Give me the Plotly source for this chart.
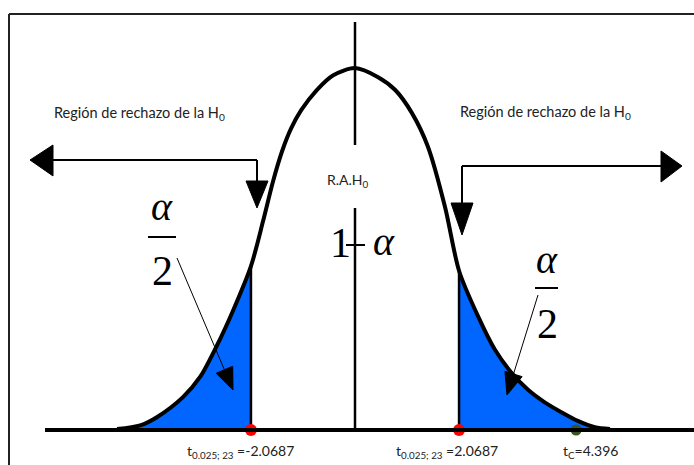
import numpy as np
import plotly.graph_objects as go

# Bell curve of the test statistic (t, 23 d.f.), sketched shape
t_curve = [-4.73, -4.27, -3.94, -3.42, -3.08, -2.74, -2.43, -2.07, -1.83, -1.63,
           -1.45, -1.27, -1.07, -0.76, -0.44, 0.0, 0.46, 0.80, 1.13, 1.45,
           1.79, 2.07, 2.45, 2.78, 3.12, 3.44, 3.78, 4.12, 4.43, 4.77, 5.07]
dens_curve = [0.001, 0.005, 0.014, 0.036, 0.058, 0.093, 0.130, 0.179, 0.228, 0.272,
              0.305, 0.330, 0.350, 0.372, 0.388, 0.396, 0.386, 0.372, 0.347, 0.310,
              0.244, 0.174, 0.124, 0.088, 0.062, 0.044, 0.030, 0.019, 0.010, 0.003, 0.001]

t_crit_low = -2.0687
t_crit_high = 2.0687
t_calc = 4.396

label_reject = "Región de rechazo de la H<sub>0</sub>"
label_accept = "R.A.H<sub>0</sub>"
label_crit_low = "t<sub>0.025; 23</sub> =-2.0687"
label_crit_high = "t<sub>0.025; 23</sub> =2.0687"
label_calc = "t<sub>C</sub>=4.396"

W, H = 694, 465
BLUE = "#0066FF"
SANS = "Lato, Open Sans, sans-serif"
SERIF = "Liberation Serif, Times New Roman, serif"

tc = np.array(t_curve)
dc = np.array(dens_curve)


def paper(x, y):
    return x / W, 1 - y / H


def path_from_pixels(points, close=False):
    parts = []
    for i, (x, y) in enumerate(points):
        px, py = paper(x, y)
        parts.append(("M" if i == 0 else "L") + f" {px:.5f} {py:.5f}")
    return " ".join(parts) + (" Z" if close else "")


shapes = []


def line_px(p0, p1, width=2, color="#000"):
    shapes.append(dict(type="path", xref="paper", yref="paper",
                       path=path_from_pixels([p0, p1]),
                       line=dict(color=color, width=width)))


def tri_px(points, color="#000"):
    shapes.append(dict(type="path", xref="paper", yref="paper",
                       path=path_from_pixels(points, close=True),
                       fillcolor=color, line=dict(color=color, width=1)))


def pointer_px(start, tip, head_len=22, half_w=9, width=1):
    s = np.array(start, float)
    e = np.array(tip, float)
    d = (e - s) / np.linalg.norm(e - s)
    n = np.array([-d[1], d[0]])
    base = e - head_len * d
    line_px(tuple(s), tuple(base), width=width)
    tri_px([tuple(e), tuple(base + half_w * n), tuple(base - half_w * n)])


fig = go.Figure()

# Rejection tails
y_low = float(np.interp(t_crit_low, tc, dc))
y_high = float(np.interp(t_crit_high, tc, dc))
m_low = tc <= t_crit_low
m_high = tc >= t_crit_high
fig.add_trace(go.Scatter(
    x=list(tc[m_low]) + [t_crit_low, t_crit_low],
    y=list(dc[m_low]) + [y_low, 0],
    fill="toself", fillcolor=BLUE, line=dict(width=0), mode="lines",
    hoverinfo="skip", showlegend=False))
fig.add_trace(go.Scatter(
    x=[t_crit_high, t_crit_high] + list(tc[m_high]),
    y=[0, y_high] + list(dc[m_high]),
    fill="toself", fillcolor=BLUE, line=dict(width=0), mode="lines",
    hoverinfo="skip", showlegend=False))

# Critical value verticals
for tv, yv in ((t_crit_low, y_low), (t_crit_high, y_high)):
    fig.add_trace(go.Scatter(x=[tv, tv], y=[0, yv], mode="lines",
                             line=dict(color="#000", width=2.5),
                             hoverinfo="skip", showlegend=False))

# Density curve
fig.add_trace(go.Scatter(x=t_curve, y=dens_curve, mode="lines",
                         line=dict(color="#000", width=4, shape="spline", smoothing=0.8),
                         hoverinfo="skip", showlegend=False))

# Baseline
shapes.append(dict(type="line", xref="paper", yref="y", x0=45 / W, x1=1, y0=0, y1=0,
                   line=dict(color="#000", width=4)))

# Centre line (broken around the acceptance label)
shapes.append(dict(type="line", xref="x", yref="paper", x0=0, x1=0,
                   y0=paper(0, 145)[1], y1=paper(0, 22)[1],
                   line=dict(color="#000", width=2.5)))
shapes.append(dict(type="line", xref="x", yref="paper", x0=0, x1=0,
                   y0=paper(0, 430)[1], y1=paper(0, 208)[1],
                   line=dict(color="#000", width=2.5)))

# Frame
line_px((9, 14), (9, 465), width=2, color="#222")
line_px((9, 14), (694, 14), width=2, color="#222")

# Rejection-region elbow arrows
line_px((52, 160), (257, 160), width=2)
line_px((257, 160), (257, 182), width=2)
tri_px([(30, 160), (53, 145), (53, 176)])
tri_px([(246, 181), (268, 181), (257, 208)])

line_px((462, 166), (662, 166), width=2)
line_px((462, 166), (462, 204), width=2)
tri_px([(682, 166), (661, 151), (661, 182)])
tri_px([(451, 203), (473, 203), (462, 235)])

# alpha/2 pointers
pointer_px((177, 258), (233, 390))
pointer_px((538, 295), (507, 395))

# Fraction bars and the minus in 1 - alpha
line_px((148, 237), (176, 237), width=2)
line_px((535, 288), (558, 288), width=2)
line_px((346, 245), (365, 245), width=2)

# Critical and calculated points
fig.add_trace(go.Scatter(x=[t_crit_low, t_crit_high], y=[0, 0], mode="markers",
                         marker=dict(color="#FF0000", size=12),
                         hoverinfo="skip", showlegend=False))
fig.add_trace(go.Scatter(x=[t_calc], y=[0], mode="markers",
                         marker=dict(color="#3B5323", size=11),
                         hoverinfo="skip", showlegend=False))

annotations = []


def text_px(x, y, text, size, family=SANS, color="#222"):
    px, py = paper(x, y)
    annotations.append(dict(x=px, y=py, xref="paper", yref="paper", text=text,
                            showarrow=False, xanchor="center", yanchor="middle",
                            font=dict(size=size, family=family, color=color)))


text_px(139, 114, label_reject, 14.5)
text_px(545, 112, label_reject, 14.5)
text_px(348, 180, label_accept, 14)

text_px(340, 243, "1", 42, SERIF, "#000")
text_px(384, 242, "<i>α</i>", 40, SERIF, "#000")
text_px(162, 206, "<i>α</i>", 40, SERIF, "#000")
text_px(162, 271, "2", 42, SERIF, "#000")
text_px(547, 259, "<i>α</i>", 40, SERIF, "#000")
text_px(547, 324, "2", 42, SERIF, "#000")

# Labels under the points, tied to their values
for tv, txt, shift in ((t_crit_low, label_crit_low, -10),
                       (t_crit_high, label_crit_high, -12),
                       (t_calc, label_calc, 14)):
    annotations.append(dict(x=tv, y=paper(0, 451)[1], xref="x", yref="paper", text=txt,
                            xshift=shift, showarrow=False, xanchor="center", yanchor="middle",
                            font=dict(size=14, family=SANS, color="#222")))

fig.update_layout(
    width=W, height=H, margin=dict(l=0, r=0, t=0, b=0),
    paper_bgcolor="white", plot_bgcolor="white",
    xaxis=dict(range=[-7.058, 6.740], visible=False, fixedrange=True),
    yaxis=dict(range=[-0.0383, 0.4705], visible=False, fixedrange=True),
    shapes=shapes, annotations=annotations,
)

fig.write_html("out.html")
